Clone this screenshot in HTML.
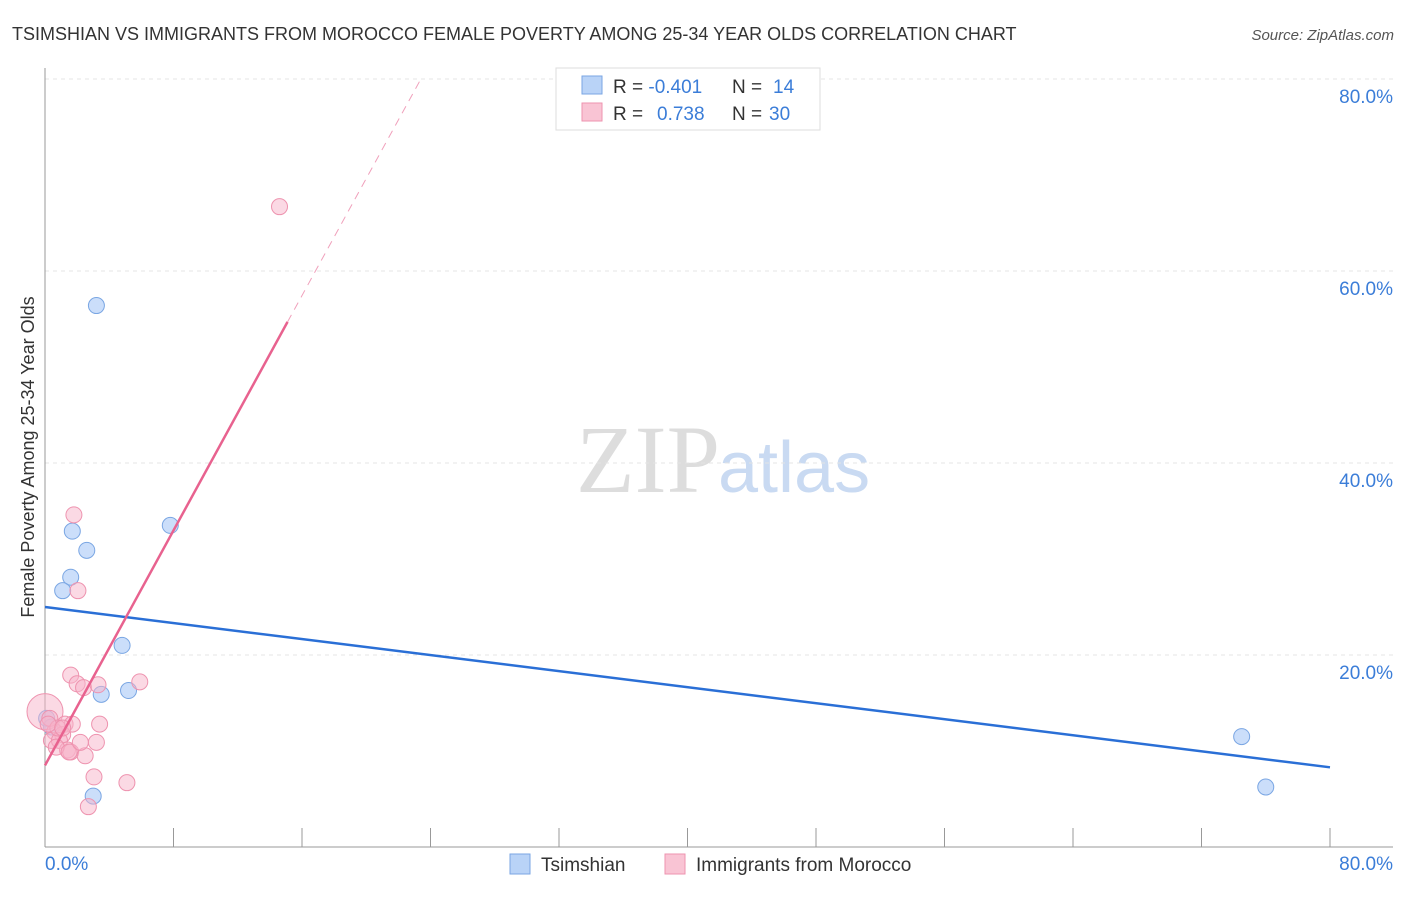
<!DOCTYPE html>
<html><head><meta charset="utf-8"><style>
body{margin:0;background:#fff;font-family:"Liberation Sans",sans-serif;}
</style></head><body>
<svg width="1406" height="892" xmlns="http://www.w3.org/2000/svg" id="chart" font-family="Liberation Sans, sans-serif">
<text x="12" y="40" font-size="18" fill="#333">TSIMSHIAN VS IMMIGRANTS FROM MOROCCO FEMALE POVERTY AMONG 25-34 YEAR OLDS CORRELATION CHART</text>
<text x="1394" y="40" font-size="15" fill="#555" font-style="italic" text-anchor="end">Source: ZipAtlas.com</text>
<text x="720" y="492" font-size="96" fill="#ddd" text-anchor="end" font-family="Liberation Serif, serif">ZIP</text>
<text x="718" y="492" font-size="72" fill="#c9daf2">atlas</text>
<text transform="translate(34,457) rotate(-90)" font-size="18" fill="#333" text-anchor="middle">Female Poverty Among 25-34 Year Olds</text>
<g id="grid"></g><g id="marks"></g>
<g>
<rect x="556" y="68" width="264" height="62" fill="#fff" stroke="#ddd"/>
<rect x="582" y="76" width="20" height="18" fill="#b9d3f7" stroke="#7aa6e3"/>
<rect x="582" y="103" width="20" height="18" fill="#f9c4d4" stroke="#ee93af"/>
<text x="613" y="93" font-size="19" fill="#333">R = <tspan fill="#3b7dd8">-0.401</tspan><tspan x="732">N = </tspan><tspan fill="#3b7dd8" x="773">14</tspan></text>
<text x="613" y="120" font-size="19" fill="#333">R = <tspan fill="#3b7dd8" x="657">0.738</tspan><tspan x="732">N = </tspan><tspan fill="#3b7dd8" x="769">30</tspan></text>
</g>
<g>
<rect x="510" y="854" width="20" height="20" fill="#b9d3f7" stroke="#7aa6e3"/>
<text x="541" y="871" font-size="19" fill="#333">Tsimshian</text>
<rect x="665" y="854" width="20" height="20" fill="#f9c4d4" stroke="#ee93af"/>
<text x="696" y="871" font-size="19" fill="#333">Immigrants from Morocco</text>
</g>
</svg>
<script>
const yTicks=[20,40,60,80];
const xTickLabels=["0.0%","80.0%"];
const tsX=[3.2,1.7,2.6,1.6,1.1,7.8,4.8,5.2,3.5,3.0,74.5,76.0,0.1,0.4];
const tsY=[56.4,32.9,30.9,28.1,26.7,33.5,21.0,16.3,15.9,5.3,11.5,6.25,13.4,12.5];
const moX=[14.6,1.8,2.05,1.6,2.0,2.4,3.3,5.9,0,1.25,1.7,3.4,0.6,1.1,0.4,0.9,3.2,1.4,1.6,2.5,3.05,5.1,2.7,0.3,0.8,0.2,0.7,1.1,1.5,2.2];
const moY=[66.7,34.6,26.7,17.9,17.0,16.6,16.9,17.2,14.1,12.8,12.8,12.8,12.0,11.7,11.1,11.1,10.9,10.1,9.9,9.5,7.3,6.7,4.2,13.4,12.4,12.8,10.4,12.4,9.9,10.9];
const tsLine=[[0,25.0],[80,8.3]];
const moLine=[[0,8.5],[15.1,54.7],[23.4,80]];
const NS="http://www.w3.org/2000/svg";
const sx=v=>45+v*(1285/80), sy=v=>847-v*9.6;
function mk(t,a,p){const e=document.createElementNS(NS,t);for(const k in a)e.setAttribute(k,a[k]);p.appendChild(e);return e;}
const g=document.getElementById('grid'),m=document.getElementById('marks');
yTicks.forEach(t=>{
 const l=mk('line',{x1:45,x2:1393,y1:sy(t),y2:sy(t),stroke:'#e4e4e4','stroke-dasharray':'4,4'},g);
 
 
 const tx=mk('text',{x:1393,y:sy(t)+24,'font-size':19,fill:'#3b7dd8','text-anchor':'end'},g);tx.textContent=t.toFixed(1)+'%';
 
 
});
const ax=mk('line',{x1:45,x2:1393,y1:847,y2:847,stroke:'#999'},g);


const ay=mk('line',{x1:45,x2:45,y1:68,y2:847,stroke:'#999'},g);


for(let i=0;i<=10;i++){const t=mk('line',{x1:sx(i*8),x2:sx(i*8),y1:828,y2:847,stroke:'#999'},g);
 
 }
const xl1=mk('text',{x:45,y:870,'font-size':19,fill:'#3b7dd8'},g);xl1.textContent=xTickLabels[0];


const xl2=mk('text',{x:1393,y:870,'font-size':19,fill:'#3b7dd8','text-anchor':'end'},g);xl2.textContent=xTickLabels[1];


tsX.forEach((x,i)=>{const c=mk('circle',{cx:sx(x),cy:sy(tsY[i]),r:8,fill:'rgba(160,195,245,0.55)',stroke:'#7aa6e3'},m);
 
 });
moX.forEach((x,i)=>{const c=mk('circle',{cx:sx(x),cy:sy(moY[i]),r:i==8?18:8,fill:'rgba(248,180,202,0.5)',stroke:'#ee93af'},m);
 
 });
const l1=mk('line',{x1:sx(tsLine[0][0]),y1:sy(tsLine[0][1]),x2:sx(tsLine[1][0]),y2:sy(tsLine[1][1]),stroke:'#2a6fd6','stroke-width':2.5},m);


const l2=mk('line',{x1:sx(moLine[0][0]),y1:sy(moLine[0][1]),x2:sx(moLine[1][0]),y2:sy(moLine[1][1]),stroke:'#e8628f','stroke-width':2.5},m);


const l3=mk('line',{x1:sx(moLine[1][0]),y1:sy(moLine[1][1]),x2:sx(moLine[2][0]),y2:sy(moLine[2][1]),stroke:'#f0a0bb','stroke-width':1,'stroke-dasharray':'8,6'},m);


</script>
</body></html>
